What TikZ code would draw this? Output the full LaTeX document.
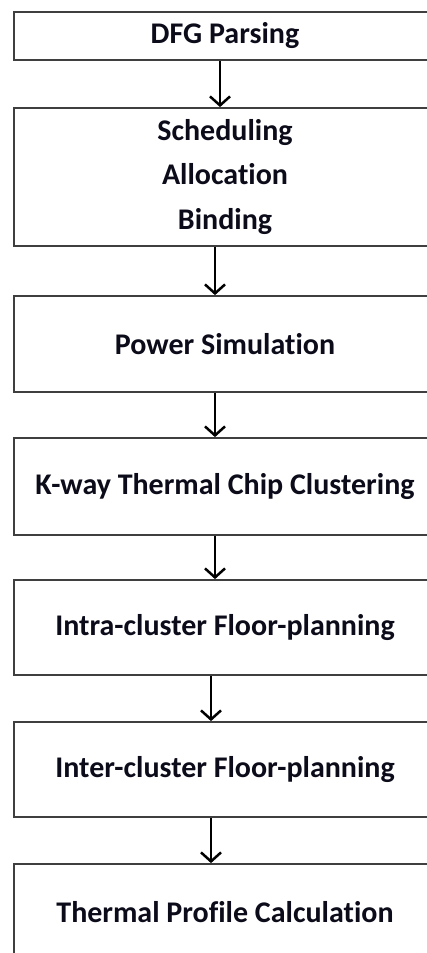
\documentclass[tikz,border=0pt]{standalone}
\usepackage{fontspec}
\setmainfont[Ligatures={NoCommon,NoContextual}]{Carlito}
\usetikzlibrary{arrows.meta}
\definecolor{boxline}{HTML}{3F3F3F}
\definecolor{inktext}{HTML}{0B0B1A}
\tikzset{
  stage/.style={draw=boxline, line width=1.8pt, fill=white, rectangle,
    minimum width=422pt, inner sep=0pt, text=inktext,
    font=\fontsize{30}{44.5}\selectfont\bfseries, align=center},
  flow/.style={draw=black, line width=2.5pt,
    -{Straight Barb[length=9pt,width=20pt,line width=2.5pt]}}
}
\begin{document}
\begin{tikzpicture}[x=1pt, y=-1pt]
  \useasboundingbox (0,0) rectangle (427,953);
  \clip (0,0) rectangle (427,953);
  \fill[white] (0,0) rectangle (427,953);

  % process stages, top to bottom
  \node[stage, minimum height=48pt]  (parse)  at (225,36)    {DFG Parsing};
  \node[stage, minimum height=138pt] (sab)    at (225,177)   {Scheduling\\Allocation\\Binding};
  \node[stage, minimum height=96pt]  (power)  at (225,344)   {Power Simulation};
  \node[stage, minimum height=97pt]  (kway)   at (225,486.5) {K-way Thermal Chip Clustering};
  \node[stage, minimum height=95pt]  (intra)  at (225,627.5) {Intra-cluster Floor-planning};
  \node[stage, minimum height=95pt]  (inter)  at (225,769.5) {Inter-cluster Floor-planning};
  \node[stage, minimum height=96pt]  (therm)  at (225,912)   {Thermal Profile Calculation};

  % horizontal positions of the connecting arrows
  \coordinate (c1) at (220,0);
  \coordinate (c2) at (215,0);
  \coordinate (c3) at (211,0);

  \draw[flow] (parse.south -| c1) -- (sab.north -| c1);
  \draw[flow] (sab.south -| c2)   -- (power.north -| c2);
  \draw[flow] (power.south -| c2) -- (kway.north -| c2);
  \draw[flow] (kway.south -| c2)  -- (intra.north -| c2);
  \draw[flow] (intra.south -| c3) -- (inter.north -| c3);
  \draw[flow] (inter.south -| c3) -- (therm.north -| c3);
\end{tikzpicture}
\end{document}
